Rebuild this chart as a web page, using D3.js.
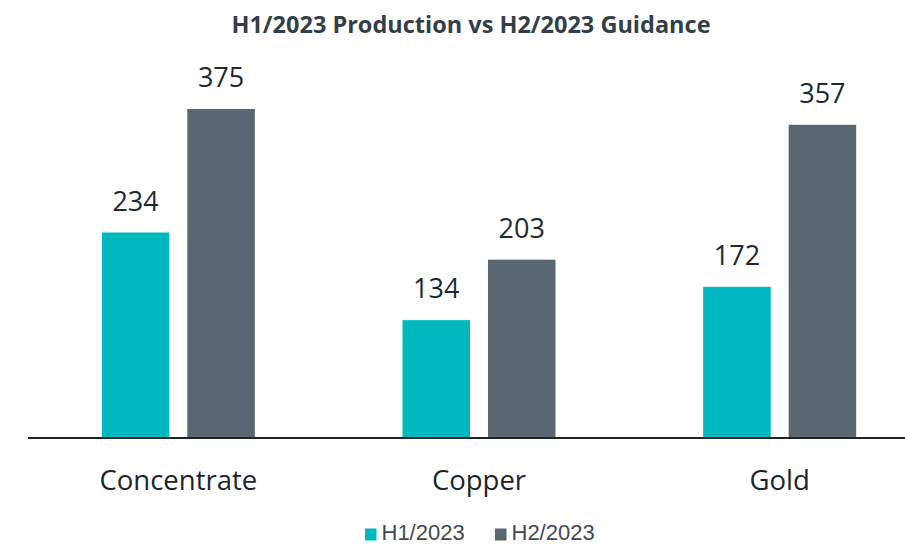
<!DOCTYPE html>
<html>
<head>
<meta charset="utf-8">
<script src="https://cdn.jsdelivr.net/npm/d3@7"></script>
<style>
  html, body { margin: 0; padding: 0; background: #fff; }
  svg { display: block; }
</style>
</head>
<body>
<svg id="chart" width="905" height="545"></svg>
<script>
const title = "H1/2023 Production vs H2/2023 Guidance";
const categories = ["Concentrate", "Copper", "Gold"];
const seriesNames = ["H1/2023", "H2/2023"];
const h1Values = [234, 134, 172];
const h2Values = [375, 203, 357];
const colors = ["#00B8BD", "#5B6770"];

const svg = d3.select("#chart");
const baseY = 437.5;

const x = d3.scaleBand().domain(categories).range([28, 930]).paddingInner(0).paddingOuter(0);
const xs = d3.scaleBand().domain(seriesNames).range([0, 153]).paddingInner(0.21);
const y = d3.scaleLinear().domain([0, 375]).range([baseY, 109]);

const data = categories.map((c, i) => ({
  cat: c,
  vals: [
    { s: seriesNames[0], v: h1Values[i] },
    { s: seriesNames[1], v: h2Values[i] }
  ]
}));

// title
svg.append("text")
  .attr("x", 471).attr("y", 33)
  .attr("text-anchor", "middle")
  .attr("font-family", "'Open Sans', sans-serif")
  .attr("font-weight", "bold")
  .attr("font-size", 23.5)
  .attr("fill", "#333F48")
  .text(title);

const groups = svg.append("g").selectAll("g").data(data).join("g")
  .attr("transform", d => `translate(${x(d.cat) + x.bandwidth() / 2 - 76.5},0)`);

groups.selectAll("rect").data(d => d.vals).join("rect")
  .attr("x", d => xs(d.s))
  .attr("width", xs.bandwidth())
  .attr("y", d => y(d.v))
  .attr("height", d => baseY - y(d.v))
  .attr("fill", (d, i) => colors[i]);

groups.selectAll("text.val").data(d => d.vals).join("text")
  .attr("class", "val")
  .attr("x", d => xs(d.s) + xs.bandwidth() / 2)
  .attr("y", d => y(d.v) - 22)
  .attr("text-anchor", "middle")
  .attr("font-family", "'Open Sans', sans-serif")
  .attr("font-size", 27)
  .attr("fill", "#1F2A30")
  .text(d => d.v);

// axis
const xAxis = d3.axisBottom(x).tickSize(0).tickPadding(0);
const ax = svg.append("g").attr("transform", `translate(0,${baseY})`).call(xAxis);
ax.select(".domain").remove();
ax.selectAll("text")
  .attr("y", 52)
  .attr("dy", 0)
  .attr("font-family", "'Open Sans', sans-serif")
  .attr("font-size", 27.5)
  .attr("fill", "#1D252C");

svg.append("line")
  .attr("x1", 28).attr("x2", 905)
  .attr("y1", baseY + 0.5).attr("y2", baseY + 0.5)
  .attr("stroke", "#1F262B").attr("stroke-width", 2);

// legend
const legendX = [365, 495];
const lg = svg.append("g").selectAll("g").data(seriesNames).join("g")
  .attr("transform", (d, i) => `translate(${legendX[i]},0)`);
lg.append("rect")
  .attr("x", 0).attr("y", 528.5).attr("width", 11.5).attr("height", 12)
  .attr("fill", (d, i) => colors[i]);
lg.append("text")
  .attr("x", 16.5).attr("y", 540)
  .attr("font-family", "'Liberation Sans', Arial, sans-serif")
  .attr("font-size", 22)
  .attr("fill", "#404A52")
  .text(d => d);
</script>
</body>
</html>
